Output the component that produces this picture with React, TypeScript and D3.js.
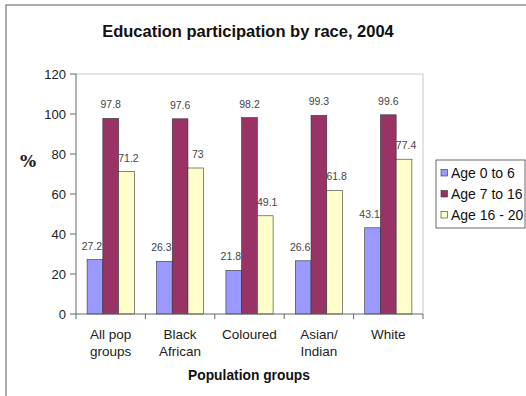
import React from 'react';
import * as d3 from 'd3';

const groups = [['All pop', 'groups'], ['Black', 'African'], ['Coloured'], ['Asian/', 'Indian'], ['White']];
const seriesNames = ['Age 0 to 6', 'Age 7 to 16', 'Age 16 - 20'];
const age0to6 = [27.2, 26.3, 21.8, 26.6, 43.1];
const age7to16 = [97.8, 97.6, 98.2, 99.3, 99.6];
const age16to20 = [71.2, 73, 49.1, 61.8, 77.4];
const yTicks = [0, 20, 40, 60, 80, 100, 120];
const colors = ['#9999ff', '#993366', '#ffffcc'];

const W = 526;
const H = 396;
const font = 'Liberation Sans, Arial, sans-serif';

export default function App() {
  const series = [age0to6, age7to16, age16to20];
  const idx = groups.map((_, i) => i);

  // plot area
  const left = 76, right = 423, top = 74, bottom = 314;

  const x = d3.scaleBand<number>().domain(idx).range([left, right]).paddingInner(0.32).paddingOuter(0.16);
  const xs = d3.scaleBand<number>().domain([0, 1, 2]).range([0, x.bandwidth()]);
  const y = d3.scaleLinear().domain([0, 120]).range([bottom, top]);

  const step = x.step();

  return (
    <svg width={W} height={H} style={{ position: 'absolute', left: 0, top: 0 }} fontFamily={font}>
      <rect x={0} y={0} width={W} height={H} fill="#fff" />
      {/* outer frame */}
      <rect x={6} y={5} width={W + 10} height={H + 10} fill="none" stroke="#777" strokeWidth={1.2} />

      <text x={248} y={37} textAnchor="middle" fontSize={16.5} fontWeight="bold" fill="#111">
        Education participation by race, 2004
      </text>

      {/* plot area border */}
      <path d={`M${left},${top}H${right}V${bottom}`} fill="none" stroke="#c8c8c8" strokeWidth={1} />

      {/* y axis */}
      <line x1={left} x2={left} y1={top} y2={bottom} stroke="#666" />
      {yTicks.map(t => (
        <g key={t}>
          <line x1={left - 6} x2={left} y1={y(t)} y2={y(t)} stroke="#666" />
          <text x={66} y={y(t) + 4.5} textAnchor="end" fontSize={13} fill="#222">{t}</text>
        </g>
      ))}
      <text x={28} y={167} textAnchor="middle" fontSize={17} fontWeight="bold" fontFamily="DejaVu Serif, serif" fill="#222">%</text>

      {/* data labels (drawn under the bars) */}
      {series.map((vals, s) =>
        vals.map((v, i) => (
          <text key={`l${s}-${i}`} x={(x(i) as number) + (xs(s) as number) + xs.bandwidth() / 2 - (s === 0 ? 3 : s === 2 ? -2 : 0)}
            y={y(v) - 10} textAnchor="middle" fontSize={10.5} fill="#444">{v}</text>
        ))
      )}

      {/* bars */}
      {series.map((vals, s) =>
        vals.map((v, i) => (
          <rect key={`b${s}-${i}`} x={(x(i) as number) + (xs(s) as number)} y={y(v)} width={xs.bandwidth()}
            height={y(0) - y(v)} fill={colors[s]} stroke="#333" strokeWidth={0.6} />
        ))
      )}

      {/* x axis */}
      <line x1={left} x2={right} y1={bottom} y2={bottom} stroke="#666" />
      {d3.range(groups.length + 1).map(k => (
        <line key={k} x1={left + k * step} x2={left + k * step} y1={bottom} y2={bottom + 5} stroke="#666" />
      ))}
      {groups.map((lines, i) => (
        <text key={i} x={(x(i) as number) + x.bandwidth() / 2} textAnchor="middle" fontSize={13.5} fill="#222">
          {lines.map((ln, j) => (
            <tspan key={j} x={(x(i) as number) + x.bandwidth() / 2} y={339 + j * 17}>{ln}</tspan>
          ))}
        </text>
      ))}
      <text x={249} y={380} textAnchor="middle" fontSize={13.8} fontWeight="bold" fill="#111">Population groups</text>

      {/* legend */}
      <rect x={436} y={160} width={89} height={68} fill="#fff" stroke="#444" strokeWidth={0.8} />
      {seriesNames.map((n, s) => (
        <g key={n} transform={`translate(441, ${173 + s * 21})`}>
          <rect x={0} y={-3.5} width={6.5} height={6.5} fill={colors[s]} stroke="#333" strokeWidth={0.6} />
          <text x={10} y={5} fontSize={14} fill="#111">{n}</text>
        </g>
      ))}
    </svg>
  );
}
